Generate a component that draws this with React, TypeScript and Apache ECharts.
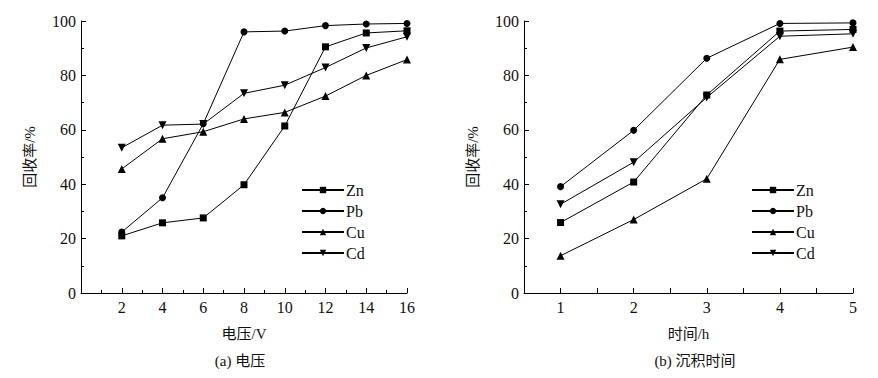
import React, { useEffect, useRef } from "react";
import * as echarts from "echarts";

const seriesNames = ["Zn", "Pb", "Cu", "Cd"];
const symbols = ["rect", "circle", "triangle", "path://M0,0 L10,0 L5,9 Z"];
const symbolSizes = [7, 7, 8, 8];

const voltage = [2, 4, 6, 8, 10, 12, 14, 16];
const voltZn = [21.0, 25.8, 27.6, 39.8, 61.4, 90.5, 95.6, 96.4];
const voltPb = [22.4, 35.0, 62.2, 96.0, 96.3, 98.3, 98.9, 99.1];
const voltCu = [45.6, 56.7, 59.3, 64.0, 66.4, 72.4, 80.0, 85.8];
const voltCd = [53.4, 61.7, 62.1, 73.4, 76.4, 82.9, 90.1, 94.2];

const time = [1, 2, 3, 4, 5];
const timeZn = [25.9, 40.8, 72.8, 96.3, 96.9];
const timePb = [39.1, 59.8, 86.3, 99.1, 99.3];
const timeCu = [13.7, 27.0, 42.0, 85.9, 90.4];
const timeCd = [32.6, 48.1, 71.9, 94.4, 95.3];

const yTicks = { min: 0, max: 100, interval: 20 };

const FONT = "'Liberation Serif', 'Noto Sans CJK SC', serif";

export default function App() {
  const ref = useRef<HTMLDivElement>(null);
  useEffect(() => {
    if (!ref.current) return;
    const chart = echarts.init(ref.current, undefined, { renderer: "svg" });
    const axisCommon = {
      axisLine: { show: true, onZero: false, lineStyle: { color: "#000", width: 1 } },
      axisTick: { show: true, inside: true, length: 5, lineStyle: { color: "#000" } },
      minorTick: { show: true, splitNumber: 2, length: 3, lineStyle: { color: "#000" } },
      splitLine: { show: false },
      minorSplitLine: { show: false },
      axisLabel: { color: "#111", fontFamily: FONT, fontSize: 16 },
      nameTextStyle: { color: "#111", fontFamily: FONT, fontSize: 15 },
    };
    const voltSets = [voltZn, voltPb, voltCu, voltCd];
    const timeSets = [timeZn, timePb, timeCu, timeCd];
    const series: any[] = [];
    voltSets.forEach((d, i) => {
      series.push({
        name: seriesNames[i],
        type: "line",
        xAxisIndex: 0,
        yAxisIndex: 0,
        data: voltage.map((x, j) => [x, d[j]]),
        symbol: symbols[i],
        symbolSize: symbolSizes[i],
        lineStyle: { color: "#000", width: 1 },
        itemStyle: { color: "#000" },
        showAllSymbol: true,
      });
    });
    timeSets.forEach((d, i) => {
      series.push({
        name: seriesNames[i],
        type: "line",
        xAxisIndex: 1,
        yAxisIndex: 1,
        data: time.map((x, j) => [x, d[j]]),
        symbol: symbols[i],
        symbolSize: symbolSizes[i],
        lineStyle: { color: "#000", width: 1 },
        itemStyle: { color: "#000" },
        showAllSymbol: true,
      });
    });
    const legendCommon = {
      orient: "vertical",
      data: seriesNames,
      itemWidth: 42,
      itemHeight: 8,
      itemGap: 5,
      textStyle: { color: "#111", fontFamily: FONT, fontSize: 16, padding: [0, 0, 0, -3] },
      selectedMode: false,
      padding: 0,
    };
    chart.setOption({
      animation: false,
      backgroundColor: "#fff",
      grid: [
        { left: 81, right: 471, top: 21, bottom: 85 },
        { left: 524, right: 25, top: 21, bottom: 85 },
      ],
      xAxis: [
        {
          ...axisCommon,
          type: "value",
          gridIndex: 0,
          min: 0,
          max: 16,
          interval: 2,
          name: "电压/V",
          nameLocation: "middle",
          nameGap: 33,
          axisLabel: {
            ...axisCommon.axisLabel,
            margin: 6,
            formatter: (v: number) => (v === 0 ? "" : String(v)),
          },
        },
        {
          ...axisCommon,
          type: "value",
          gridIndex: 1,
          min: 0.5,
          max: 5,
          interval: 0.5,
          minorTick: { show: false },
          name: "时间/h",
          nameLocation: "middle",
          nameGap: 33,
          axisLabel: {
            ...axisCommon.axisLabel,
            margin: 6,
            formatter: (v: number) => (Number.isInteger(v) ? String(v) : ""),
          },
        },
      ],
      yAxis: [
        {
          ...axisCommon,
          type: "value",
          gridIndex: 0,
          ...yTicks,
          name: "回收率/%",
          nameLocation: "middle",
          nameGap: 44,
          nameRotate: 90,
          axisLabel: { ...axisCommon.axisLabel, margin: 5 },
        },
        {
          ...axisCommon,
          type: "value",
          gridIndex: 1,
          ...yTicks,
          name: "回收率/%",
          nameLocation: "middle",
          nameGap: 44,
          nameRotate: 90,
          axisLabel: { ...axisCommon.axisLabel, margin: 5 },
        },
      ],
      legend: [
        { ...legendCommon, left: 301, top: 182 },
        { ...legendCommon, left: 751, top: 182 },
      ],
      graphic: [
        {
          type: "text",
          x: 240,
          y: 361,
          style: { text: "(a) 电压", fontFamily: FONT, fontSize: 15, fill: "#111", align: "center", verticalAlign: "middle" },
        },
        {
          type: "text",
          x: 695,
          y: 361,
          style: { text: "(b) 沉积时间", fontFamily: FONT, fontSize: 15, fill: "#111", align: "center", verticalAlign: "middle" },
        },
      ],
      series,
    });
    return () => chart.dispose();
  }, []);
  return <div ref={ref} style={{ width: 878, height: 378, position: "absolute", left: 0, top: 0 }} />;
}
